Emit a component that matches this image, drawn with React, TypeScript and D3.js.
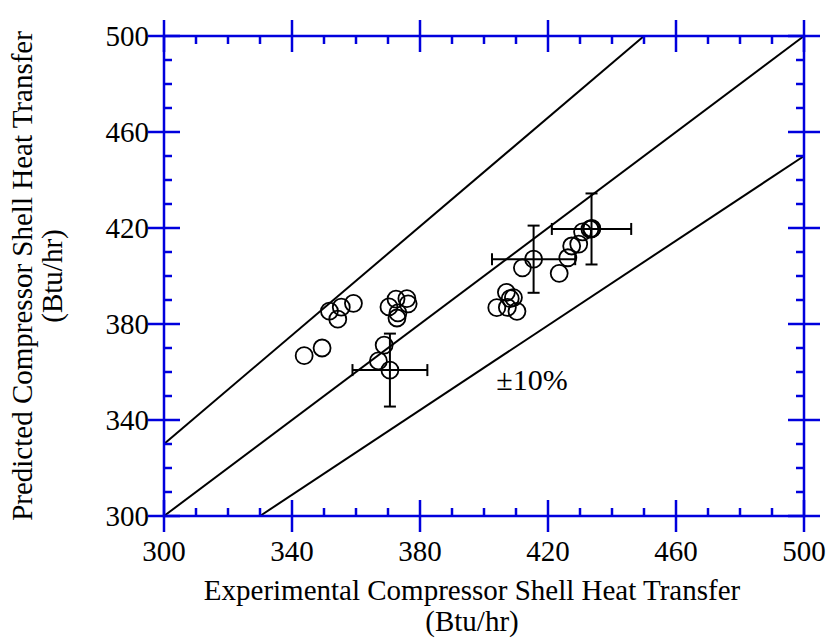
import React from "react";
import * as d3 from "d3";

// Measured vs. predicted compressor shell heat transfer (Btu/hr)
const experimental = [
  343.8, 349.4, 351.7, 354.3, 355.4, 359.2,
  370.3, 372.5, 372.8, 373.1, 375.9, 376.3,
  368.8, 367.0,
  404.0, 407.0, 407.3, 409.2, 410.3, 408.2,
  412.0, 423.5, 426.2, 427.4, 429.6, 430.8, 433.1, 433.7,
];
const predicted = [
  366.8, 370.0, 385.4, 382.0, 387.0, 388.6,
  387.1, 390.4, 382.5, 384.6, 390.6, 388.4,
  371.2, 364.6,
  386.8, 393.2, 386.9, 391.0, 385.3, 390.6,
  403.4, 401.1, 407.6, 412.5, 413.3, 418.4, 419.5, 419.8,
];

// Points carrying uncertainty bars
const errX = [370.6, 415.5, 433.6];
const errY = [360.8, 407.0, 419.6];
const errXHalf = [11.7, 13.0, 12.4];
const errYHalf = [15.2, 14.0, 14.8];

// Perfect agreement and ±10% band lines
const bandLines: [number, number][][] = [
  [[300, 300], [500, 500]],
  [[300, 330], [450, 500]],
  [[330, 300], [500, 450]],
];

const xTicks = [300, 340, 380, 420, 460, 500];
const yTicks = [300, 340, 380, 420, 460, 500];
const xMinor = d3.range(300, 501, 10);
const yMinor = d3.range(300, 501, 10);

const W = 830;
const H = 640;
const left = 164;
const right = 804;
const top = 36;
const bottom = 516;

const BLUE = "#0000dd";
const FONT = "'Liberation Serif', 'Times New Roman', serif";

export default function App() {
  const x = d3.scaleLinear().domain([300, 500]).range([left, right]);
  const y = d3.scaleLinear().domain([300, 500]).range([bottom, top]);
  const line = d3
    .line<[number, number]>()
    .x((d) => x(d[0]))
    .y((d) => y(d[1]));

  const major = 16;
  const minor = 8;
  const cap = 6;

  return (
    <svg
      width={W}
      height={H}
      style={{ position: "absolute", left: 0, top: 0, background: "#fff" }}
      fontFamily={FONT}
    >
      {/* band lines */}
      {bandLines.map((l, i) => (
        <path key={i} d={line(l) ?? ""} stroke="#000" strokeWidth={2} fill="none" />
      ))}

      {/* data markers */}
      {experimental.map((e, i) => (
        <circle
          key={i}
          cx={x(e)}
          cy={y(predicted[i])}
          r={8.5}
          fill="none"
          stroke="#000"
          strokeWidth={1.8}
        />
      ))}

      {/* uncertainty bars */}
      {errX.map((ex, i) => {
        const cx = x(ex);
        const cy = y(errY[i]);
        const x0 = x(ex - errXHalf[i]);
        const x1 = x(ex + errXHalf[i]);
        const y0 = y(errY[i] - errYHalf[i]);
        const y1 = y(errY[i] + errYHalf[i]);
        return (
          <g key={i} stroke="#000" strokeWidth={2} fill="none">
            <circle cx={cx} cy={cy} r={8.5} strokeWidth={1.8} />
            <line x1={x0} x2={x1} y1={cy} y2={cy} />
            <line x1={x0} x2={x0} y1={cy - cap} y2={cy + cap} />
            <line x1={x1} x2={x1} y1={cy - cap} y2={cy + cap} />
            <line x1={cx} x2={cx} y1={y0} y2={y1} />
            <line x1={cx - cap} x2={cx + cap} y1={y0} y2={y0} />
            <line x1={cx - cap} x2={cx + cap} y1={y1} y2={y1} />
          </g>
        );
      })}

      {/* frame */}
      <g stroke={BLUE} strokeWidth={2.5} fill="none">
        <rect x={left} y={top} width={right - left} height={bottom - top} />
        {xMinor.map((v) => {
          const isMajor = xTicks.includes(v);
          return (
            <g key={"x" + v}>
              <line
                x1={x(v)}
                x2={x(v)}
                y1={isMajor ? bottom - major : bottom - minor}
                y2={isMajor ? bottom + major : bottom}
              />
              <line
                x1={x(v)}
                x2={x(v)}
                y1={isMajor ? top - major : top}
                y2={isMajor ? top + major : top + minor}
              />
            </g>
          );
        })}
        {yMinor.map((v) => {
          const isMajor = yTicks.includes(v);
          return (
            <g key={"y" + v}>
              <line
                y1={y(v)}
                y2={y(v)}
                x1={isMajor ? left - major : left}
                x2={isMajor ? left + major : left + minor}
              />
              <line
                y1={y(v)}
                y2={y(v)}
                x1={isMajor ? right - major : right - minor}
                x2={isMajor ? right + major : right}
              />
            </g>
          );
        })}
      </g>

      {/* tick labels */}
      {xTicks.map((v) => (
        <text key={"xl" + v} x={x(v)} y={561} fontSize={29} textAnchor="middle" fill="#000">
          {v}
        </text>
      ))}
      {yTicks.map((v) => (
        <text
          key={"yl" + v}
          x={149}
          y={y(v)}
          dy="0.35em"
          fontSize={29}
          textAnchor="end"
          fill="#000"
        >
          {v}
        </text>
      ))}

      {/* axis titles */}
      <text x={472} y={600} fontSize={29} textAnchor="middle" fill="#000">
        Experimental Compressor Shell Heat Transfer
      </text>
      <text x={472} y={631} fontSize={29} textAnchor="middle" fill="#000">
        (Btu/hr)
      </text>
      <g transform="translate(0, 276) rotate(-90)">
        <text x={0} y={32} fontSize={29} textAnchor="middle" fill="#000">
          Predicted Compressor Shell Heat Transfer
        </text>
        <text x={0} y={62} fontSize={29} textAnchor="middle" fill="#000">
          (Btu/hr)
        </text>
      </g>

      <text x={532} y={390} fontSize={30} textAnchor="middle" fill="#000">
        ±10%
      </text>
    </svg>
  );
}
